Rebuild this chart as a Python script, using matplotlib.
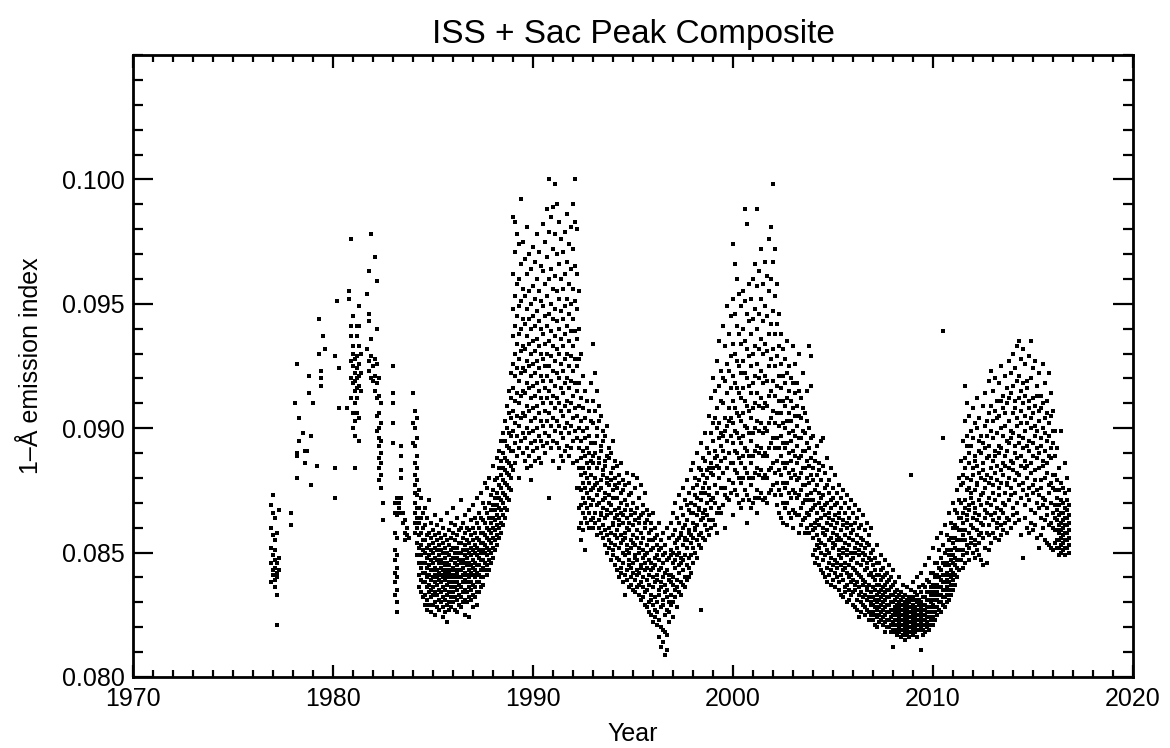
import matplotlib.pyplot as plt
from matplotlib.ticker import MultipleLocator, FormatStrFormatter

plt.rcParams['font.family'] = ['Liberation Sans', 'DejaVu Sans']

# 1-A emission index read off the composite, in units of 1e-4,
# grouped per 0.1-year bin: (year, [values in that bin])
cycle21 = [
    (1976.9, [838, 846, 852, 869, 860]),
    (1977.0, [873, 866, 857, 849, 843, 841]),
    (1977.1, [864, 855, 847, 844, 839, 836, 851]),
    (1977.2, [858, 846, 842, 840, 833, 821]),
    (1977.3, [867, 848, 843]),
    (1977.9, [866, 861]),
    (1978.1, [910]),
    (1978.2, [926, 890, 880, 889]),
    (1978.3, [895, 904]),
    (1978.5, [898]),
    (1978.6, [886, 891]),
    (1978.7, [891]),
    (1978.8, [921, 914]),
    (1978.9, [897, 877]),
    (1979.0, [910]),
    (1979.2, [885]),
    (1979.3, [944, 930]),
    (1979.4, [923, 920, 917]),
    (1979.5, [937]),
    (1979.6, [932]),
    (1980.1, [929, 884, 872]),
    (1980.2, [951]),
    (1980.3, [924, 908]),
    (1980.7, [908]),
    (1980.8, [955, 952]),
    (1980.9, [976, 941, 937, 927, 920, 912]),
    (1981.0, [945, 933, 930, 925, 918, 906, 900]),
    (1981.1, [928, 922, 919, 915, 910, 903, 897, 884]),
    (1981.2, [941, 937, 929, 924, 920, 916, 912, 906]),
    (1981.3, [949, 941, 933, 926, 921, 917, 904, 895]),
    (1981.4, [930, 922, 915]),
    (1981.7, [954, 932]),
    (1981.8, [963, 946, 943, 927, 923]),
    (1981.9, [978, 936, 929, 920]),
    (1982.0, [925, 919]),
    (1982.1, [969, 928, 921, 915]),
    (1982.2, [959, 940, 926, 918, 912, 905, 899]),
    (1982.3, [920, 913, 906, 900, 896, 893, 888, 884, 879]),
    (1982.4, [910, 902, 895, 890, 886, 881, 876]),
    (1982.5, [870, 863]),
    (1983.0, [925, 914, 910, 902, 894]),
    (1983.1, [870, 866, 858, 851, 847, 842, 838, 833]),
    (1983.2, [872, 865, 856, 849, 844, 840, 835, 830, 826]),
    (1983.3, [868, 866, 870]),
    (1983.4, [893, 889, 883, 880, 872, 866]),
    (1983.5, [866, 862]),
    (1983.6, [858, 863, 855]),
    (1983.7, [860, 857]),
    (1983.8, [856]),
    (1984.0, [914, 902, 894]),
    (1984.1, [907, 900, 893, 886, 881, 877, 874, 870, 866, 862, 858]),
    (1984.2, [904, 896, 889, 884, 879, 873, 868, 864, 860, 854, 849]),
    (1984.3, [875, 868, 862, 857, 852, 846, 841, 836]),
    (1984.4, [872, 864, 858, 853, 849, 844, 839, 834]),
    (1984.5, [866, 860, 855, 851, 846, 842, 838, 832]),
]

cycle22 = [
    (1984.6, [868, 861, 855, 850, 846, 842, 838, 833, 829]),
    (1984.7, [864, 857, 852, 848, 844, 840, 836, 831, 827]),
    (1984.8, [871, 858, 853, 849, 845, 841, 837, 834, 829]),
    (1984.9, [862, 856, 851, 847, 843, 839, 835, 832, 826]),
    (1985.0, [859, 854, 850, 846, 843, 840, 836, 833, 829]),
    (1985.1, [865, 857, 852, 848, 844, 841, 838, 834, 830, 825]),
    (1985.2, [861, 855, 851, 847, 843, 840, 837, 833, 828]),
    (1985.3, [858, 853, 849, 846, 842, 839, 835, 831, 827]),
    (1985.4, [863, 856, 851, 847, 844, 841, 838, 834, 830]),
    (1985.5, [860, 854, 850, 846, 843, 840, 836, 832, 828, 824]),
    (1985.6, [857, 852, 848, 845, 842, 839, 835, 831, 826]),
    (1985.7, [866, 855, 850, 846, 843, 840, 837, 833, 829, 822]),
    (1985.8, [859, 853, 849, 845, 842, 838, 834, 830, 827]),
    (1985.9, [862, 856, 851, 847, 843, 840, 836, 832, 828]),
    (1986.0, [868, 858, 852, 848, 844, 841, 838, 834, 830]),
    (1986.1, [861, 855, 850, 846, 843, 840, 836, 832, 827]),
    (1986.2, [864, 857, 852, 848, 845, 842, 838, 835, 831, 826]),
    (1986.3, [859, 854, 850, 847, 843, 840, 837, 833, 829]),
    (1986.4, [871, 860, 854, 850, 846, 843, 840, 836, 832, 828]),
    (1986.5, [862, 856, 851, 847, 844, 841, 838, 834, 830]),
    (1986.6, [865, 858, 853, 849, 846, 842, 839, 835, 831, 825]),
    (1986.7, [860, 855, 851, 848, 845, 841, 838, 834, 830]),
    (1986.8, [867, 859, 854, 850, 846, 843, 840, 836, 832, 824]),
    (1986.9, [863, 857, 852, 849, 845, 842, 838, 835, 831]),
    (1987.0, [869, 860, 855, 851, 847, 844, 841, 837, 833, 828]),
    (1987.1, [864, 858, 853, 850, 846, 843, 840, 836, 832]),
    (1987.2, [872, 862, 856, 852, 849, 845, 842, 838, 834, 829]),
    (1987.3, [866, 860, 855, 851, 848, 845, 841, 838, 834]),
    (1987.4, [874, 864, 858, 854, 850, 847, 843, 840, 836]),
    (1987.5, [870, 863, 858, 854, 851, 847, 844, 840, 837]),
    (1987.6, [878, 868, 862, 857, 853, 850, 846, 843]),
    (1987.7, [876, 866, 860, 856, 852, 849, 845, 841]),
    (1987.8, [880, 870, 864, 859, 855, 851, 847, 843]),
    (1987.9, [873, 867, 862, 858, 854, 850, 846]),
    (1988.0, [885, 875, 869, 864, 860, 856, 852, 848]),
    (1988.1, [879, 872, 867, 863, 859, 855, 851]),
    (1988.2, [888, 880, 874, 869, 865, 861, 857, 853]),
    (1988.3, [891, 884, 877, 872, 868, 864, 860, 856]),
    (1988.4, [895, 887, 881, 876, 871, 867, 862, 858]),
    (1988.5, [898, 890, 884, 879, 874, 870, 865, 861]),
    (1988.6, [903, 895, 888, 883, 878, 873, 868, 864]),
    (1988.7, [909, 900, 893, 887, 882, 877, 872, 867]),
    (1988.8, [915, 906, 898, 892, 886, 881, 876, 871]),
    (1988.9, [922, 912, 904, 897, 891, 885, 880, 875]),
    (1989.0, [985, 962, 948, 937, 926, 916, 907, 899, 891, 883]),
    (1989.1, [983, 971, 953, 941, 930, 921, 911, 902, 894, 886]),
    (1989.2, [978, 958, 945, 934, 924, 914, 905, 897, 889]),
    (1989.3, [974, 960, 949, 938, 928, 919, 910, 901, 892, 880]),
    (1989.4, [992, 966, 951, 940, 931, 922, 913, 904, 895]),
    (1989.5, [975, 956, 944, 933, 924, 915, 906, 898, 890]),
    (1989.6, [968, 953, 942, 932, 923, 914, 905, 896, 887]),
    (1989.7, [981, 962, 948, 937, 927, 918, 909, 900, 892, 884]),
    (1989.8, [970, 955, 944, 934, 925, 916, 907, 898, 889]),
    (1989.9, [964, 950, 940, 930, 921, 912, 903, 894, 885, 879]),
    (1990.0, [973, 957, 945, 935, 926, 917, 908, 899, 891]),
    (1990.1, [967, 952, 941, 931, 922, 913, 904, 895, 887]),
    (1990.2, [978, 960, 947, 936, 927, 918, 909, 900, 892]),
    (1990.3, [971, 955, 943, 933, 924, 915, 906, 897, 888]),
    (1990.4, [965, 951, 940, 930, 921, 912, 903, 895, 886]),
    (1990.5, [982, 963, 949, 938, 928, 919, 910, 901, 893]),
    (1990.6, [975, 958, 945, 934, 925, 916, 907, 898, 890]),
    (1990.7, [988, 969, 953, 941, 930, 921, 912, 903, 894]),
    (1990.8, [1000, 979, 960, 946, 935, 925, 915, 906, 897, 872]),
    (1990.9, [985, 964, 950, 939, 929, 919, 910, 901, 892]),
    (1991.0, [989, 972, 956, 944, 933, 923, 913, 904, 895, 887]),
    (1991.1, [998, 978, 961, 948, 937, 927, 917, 908, 899]),
    (1991.2, [990, 970, 955, 943, 932, 922, 912, 903, 894]),
    (1991.3, [983, 966, 952, 940, 930, 920, 910, 901, 892, 884]),
    (1991.4, [976, 960, 947, 936, 926, 916, 907, 898, 889]),
    (1991.5, [971, 956, 944, 933, 923, 914, 905, 896, 887]),
    (1991.6, [979, 962, 949, 938, 928, 918, 909, 900, 891]),
    (1991.7, [986, 967, 952, 941, 930, 920, 911, 902, 893]),
    (1991.8, [974, 958, 946, 935, 925, 916, 907, 898, 889]),
    (1991.9, [981, 964, 950, 939, 929, 919, 910, 901, 892]),
    (1992.0, [990, 972, 956, 944, 933, 923, 913, 904, 895, 886]),
    (1992.1, [1000, 983, 965, 951, 939, 928, 918, 908, 899]),
    (1992.2, [980, 962, 948, 936, 925, 915, 905, 896, 887, 876]),
    (1992.3, [955, 940, 928, 918, 909, 900, 892, 884, 876, 868, 860]),
    (1992.4, [930, 912, 903, 895, 888, 881, 875, 869, 862, 855]),
    (1992.5, [921, 908, 899, 891, 884, 878, 872, 866, 859]),
    (1992.6, [915, 904, 896, 889, 882, 876, 870, 864, 851]),
    (1992.7, [911, 900, 892, 886, 880, 874, 868, 862]),
    (1992.8, [907, 897, 890, 884, 878, 872, 866, 860]),
    (1992.9, [918, 903, 894, 887, 881, 875, 869, 863]),
    (1993.0, [934, 911, 902, 889, 886, 876, 871, 864, 860]),
    (1993.1, [922, 907, 894, 890, 880, 877, 866, 862]),
    (1993.2, [915, 900, 897, 884, 878, 873, 869, 857]),
    (1993.3, [909, 903, 888, 886, 875, 870, 863, 860]),
    (1993.4, [905, 893, 891, 879, 876, 866, 865, 858]),
    (1993.5, [899, 895, 883, 881, 871, 868, 861, 856]),
    (1993.6, [897, 887, 885, 874, 872, 864, 859, 853]),
    (1993.7, [901, 889, 880, 878, 867, 865, 857, 850]),
    (1993.8, [892, 888, 877, 873, 870, 860, 855, 852]),
    (1993.9, [890, 882, 879, 869, 866, 858, 854, 847]),
    (1994.0, [895, 884, 875, 872, 862, 861, 851, 849]),
    (1994.1, [887, 880, 877, 867, 864, 857, 853, 845]),
    (1994.2, [885, 876, 872, 865, 859, 856, 848, 843]),
    (1994.3, [881, 878, 868, 863, 861, 852, 847, 840]),
    (1994.4, [886, 874, 870, 866, 857, 854, 844, 842]),
    (1994.5, [879, 875, 865, 862, 855, 850, 846, 838]),
    (1994.6, [877, 871, 867, 858, 856, 849, 841, 833]),
    (1994.7, [882, 869, 864, 860, 853, 851, 843, 839]),
    (1994.8, [878, 873, 862, 859, 850, 847, 845, 836]),
    (1994.9, [874, 867, 865, 855, 852, 844, 840, 837]),
    (1995.0, [881, 870, 861, 857, 854, 846, 842, 835]),
    (1995.1, [876, 866, 863, 853, 849, 848, 839, 834]),
    (1995.2, [880, 868, 859, 856, 847, 843, 841, 836]),
    (1995.3, [872, 864, 862, 852, 850, 842, 837, 833]),
    (1995.4, [877, 865, 858, 854, 845, 844, 838, 831]),
    (1995.5, [869, 866, 856, 851, 848, 840, 836, 832]),
    (1995.6, [874, 862, 860, 849, 846, 843, 834, 829]),
    (1995.7, [867, 863, 853, 850, 844, 839, 835, 828]),
    (1995.8, [865, 858, 855, 847, 841, 837, 830, 826]),
    (1995.9, [862, 859, 851, 846, 843, 833, 831, 825]),
    (1996.0, [866, 855, 852, 844, 840, 836, 829, 822]),
    (1996.1, [860, 856, 848, 845, 838, 832, 827, 824]),
    (1996.2, [857, 853, 849, 841, 839, 830, 826, 821]),
    (1996.3, [862, 851, 847, 843, 835, 833, 823, 816]),
    (1996.4, [855, 852, 844, 838, 836, 828, 820, 812]),
    (1996.5, [858, 849, 846, 840, 831, 829, 819, 814]),
    (1996.6, [853, 850, 842, 837, 834, 825, 818, 809]),
    (1996.7, [860, 847, 843, 835, 832, 827, 817, 811]),
    (1996.8, [856, 848, 841, 839, 830, 826, 822]),
]

cycle23 = [
    (1996.9, [862, 851, 849, 841, 838, 833, 829]),
    (1997.0, [866, 857, 850, 846, 840, 837, 830, 824]),
    (1997.1, [870, 859, 854, 847, 844, 835, 832]),
    (1997.2, [864, 855, 852, 849, 839, 836, 828]),
    (1997.3, [873, 862, 856, 850, 845, 842, 834]),
    (1997.4, [868, 858, 857, 848, 846, 838, 833]),
    (1997.5, [876, 865, 860, 853, 847, 843, 837]),
    (1997.6, [871, 861, 856, 855, 849, 840, 836]),
    (1997.7, [879, 869, 863, 855, 852, 845, 839]),
    (1997.8, [874, 867, 859, 858, 848, 844, 840]),
    (1997.9, [883, 870, 866, 857, 854, 849, 842]),
    (1998.0, [886, 876, 866, 862, 856, 852, 846]),
    (1998.1, [880, 873, 869, 860, 859, 850]),
    (1998.2, [890, 877, 872, 865, 861, 855, 848]),
    (1998.3, [884, 879, 868, 867, 857, 853]),
    (1998.4, [894, 883, 874, 871, 863, 858, 852, 827]),
    (1998.5, [888, 881, 876, 866, 864, 856]),
    (1998.6, [898, 887, 878, 874, 867, 861, 855]),
    (1998.7, [892, 883, 880, 870, 865, 859]),
    (1998.8, [905, 890, 884, 876, 873, 863, 857]),
    (1998.9, [912, 898, 886, 882, 871, 868, 860]),
    (1999.0, [920, 902, 895, 884, 881, 872, 863]),
    (1999.1, [915, 904, 891, 888, 877, 870, 861]),
    (1999.2, [927, 908, 900, 889, 885, 874, 866, 858]),
    (1999.3, [935, 917, 902, 896, 884, 880, 868]),
    (1999.4, [923, 911, 898, 893, 887, 876, 866]),
    (1999.5, [941, 920, 910, 897, 891, 882, 869]),
    (1999.6, [933, 919, 904, 899, 888, 876, 873, 860]),
    (1999.7, [949, 926, 914, 901, 895, 884, 872]),
    (1999.8, [938, 923, 908, 903, 890, 879, 871]),
    (1999.9, [945, 929, 916, 904, 897, 886, 874]),
    (2000.0, [974, 952, 934, 921, 911, 902, 894, 886, 878, 865]),
    (2000.1, [966, 946, 930, 918, 908, 899, 891, 883, 875]),
    (2000.2, [960, 941, 927, 916, 906, 898, 890, 882, 873]),
    (2000.3, [954, 938, 925, 914, 905, 896, 888, 880, 870]),
    (2000.4, [949, 934, 922, 912, 903, 894, 886, 878, 868]),
    (2000.5, [955, 940, 927, 916, 906, 897, 889, 880, 871]),
    (2000.6, [988, 951, 935, 922, 911, 901, 892, 884, 875]),
    (2000.7, [982, 946, 932, 920, 909, 900, 891, 882, 873, 862]),
    (2000.8, [958, 943, 929, 917, 907, 898, 889, 880, 871]),
    (2000.9, [952, 938, 925, 914, 904, 895, 886, 877, 868]),
    (2001.0, [960, 944, 930, 918, 908, 898, 889, 880, 870]),
    (2001.1, [966, 948, 933, 921, 910, 900, 891, 882, 872]),
    (2001.2, [988, 957, 940, 926, 914, 903, 893, 884, 875, 866]),
    (2001.3, [963, 946, 932, 920, 909, 899, 890, 881, 872]),
    (2001.4, [972, 952, 936, 923, 912, 902, 892, 883, 874]),
    (2001.5, [958, 943, 930, 918, 908, 898, 889, 880, 871]),
    (2001.6, [967, 949, 934, 921, 910, 900, 890, 881, 872]),
    (2001.7, [961, 945, 931, 919, 909, 899, 889, 880, 870]),
    (2001.8, [976, 955, 938, 925, 913, 902, 892, 883, 874]),
    (2001.9, [981, 960, 942, 928, 915, 904, 894, 884, 875]),
    (2002.0, [998, 967, 947, 932, 919, 907, 896, 886, 877]),
    (2002.1, [972, 953, 938, 925, 913, 902, 892, 882, 873]),
    (2002.2, [958, 942, 929, 917, 906, 896, 887, 878, 869]),
    (2002.3, [946, 933, 921, 911, 901, 892, 883, 875, 866]),
    (2002.4, [938, 926, 916, 906, 897, 889, 881, 873, 864]),
    (2002.5, [932, 921, 911, 902, 894, 886, 878, 870, 862]),
    (2002.6, [928, 918, 909, 900, 892, 884, 876, 868]),
    (2002.7, [935, 922, 912, 903, 894, 886, 878, 870, 861]),
    (2002.8, [925, 915, 906, 898, 890, 882, 874, 866]),
    (2002.9, [920, 911, 903, 895, 887, 880, 872, 864]),
    (2003.0, [933, 918, 908, 899, 891, 883, 875, 867, 860]),
    (2003.1, [926, 914, 905, 897, 889, 881, 874, 866]),
    (2003.2, [918, 909, 901, 893, 886, 879, 872, 865]),
    (2003.3, [930, 915, 905, 896, 888, 880, 873, 865, 858]),
    (2003.4, [912, 904, 896, 889, 882, 875, 868, 861]),
    (2003.5, [922, 908, 899, 891, 884, 877, 870, 863]),
    (2003.6, [906, 898, 891, 884, 877, 871, 864, 858]),
    (2003.7, [915, 903, 894, 887, 880, 873, 866, 860]),
    (2003.8, [933, 900, 892, 885, 878, 871, 865, 858]),
    (2003.9, [929, 917, 896, 888, 881, 874, 867, 861]),
    (2004.0, [897, 884, 879, 871, 868, 859, 856, 849]),
    (2004.1, [890, 887, 875, 869, 862, 860, 851, 846]),
    (2004.2, [893, 881, 877, 866, 863, 857, 848, 853]),
    (2004.3, [886, 883, 874, 870, 861, 855, 852, 845]),
    (2004.4, [895, 879, 872, 868, 864, 854, 850, 843]),
    (2004.5, [896, 885, 873, 867, 860, 858, 847, 842]),
    (2004.6, [882, 876, 869, 865, 857, 853, 849, 840]),
    (2004.7, [888, 877, 870, 862, 859, 851, 844, 838]),
    (2004.8, [879, 874, 866, 864, 855, 850, 846, 841]),
    (2004.9, [884, 871, 868, 861, 856, 848, 843, 837]),
    (2005.0, [876, 872, 863, 858, 854, 852, 845, 839]),
    (2005.1, [881, 869, 865, 860, 853, 847, 842, 836]),
    (2005.2, [874, 870, 862, 857, 855, 846, 840, 844]),
    (2005.3, [877, 866, 864, 856, 851, 849, 838, 835]),
    (2005.4, [872, 868, 859, 855, 848, 845, 841, 833]),
    (2005.5, [875, 863, 861, 852, 850, 843, 839, 832]),
    (2005.6, [870, 866, 857, 854, 846, 844, 836, 834]),
    (2005.7, [873, 862, 860, 851, 849, 842, 837, 830]),
    (2005.8, [868, 864, 856, 853, 845, 840, 835, 831]),
    (2005.9, [871, 861, 858, 850, 847, 841, 833, 838]),
    (2006.0, [866, 859, 855, 848, 844, 839, 834, 829]),
    (2006.1, [869, 862, 852, 850, 843, 837, 835, 828]),
    (2006.2, [864, 857, 854, 846, 842, 838, 831, 827]),
    (2006.3, [867, 860, 851, 849, 841, 836, 833, 824]),
    (2006.4, [861, 856, 853, 845, 840, 834, 830, 826]),
    (2006.5, [865, 855, 850, 847, 839, 837, 829, 832]),
    (2006.6, [859, 852, 849, 843, 838, 833, 828, 825]),
    (2006.7, [862, 854, 846, 844, 836, 835, 827, 831]),
    (2006.8, [857, 853, 848, 841, 837, 832, 826, 823]),
    (2006.9, [860, 850, 847, 842, 834, 830, 829, 825]),
    (2007.0, [851, 845, 840, 836, 832, 829, 826, 823]),
    (2007.1, [848, 843, 839, 835, 831, 828, 825, 821]),
    (2007.2, [853, 846, 841, 837, 833, 830, 827, 824, 820]),
    (2007.3, [846, 841, 837, 834, 831, 828, 825, 822]),
    (2007.4, [849, 843, 839, 835, 832, 829, 826, 823]),
    (2007.5, [844, 840, 836, 833, 830, 827, 824, 821]),
    (2007.6, [847, 841, 837, 834, 831, 828, 825, 822, 818]),
    (2007.7, [842, 838, 835, 832, 829, 826, 823, 820]),
    (2007.8, [845, 839, 835, 832, 829, 826, 823, 820]),
    (2007.9, [840, 836, 833, 830, 827, 824, 821, 818]),
    (2008.0, [843, 837, 833, 830, 827, 825, 822, 819, 812]),
    (2008.1, [838, 834, 831, 828, 826, 823, 821, 818]),
    (2008.2, [835, 832, 829, 827, 825, 823, 821, 819, 817]),
    (2008.3, [840, 833, 830, 828, 826, 824, 822, 820, 818]),
    (2008.4, [834, 831, 829, 827, 825, 823, 821, 819, 816]),
    (2008.5, [837, 832, 829, 827, 825, 823, 821, 819, 817]),
    (2008.6, [833, 830, 828, 826, 824, 822, 820, 818, 815]),
    (2008.7, [836, 831, 829, 827, 825, 823, 821, 819, 817]),
    (2008.8, [832, 830, 828, 826, 824, 822, 820, 818, 816]),
    (2008.9, [881, 835, 831, 828, 826, 824, 822, 820, 818]),
    (2009.0, [838, 832, 829, 827, 825, 823, 821, 819, 817]),
    (2009.1, [834, 831, 828, 826, 824, 822, 820, 818]),
    (2009.2, [840, 833, 830, 827, 825, 823, 821, 819, 816]),
    (2009.3, [836, 831, 829, 827, 825, 823, 821, 819]),
    (2009.4, [842, 834, 830, 828, 826, 824, 822, 820, 811]),
    (2009.5, [837, 832, 829, 827, 825, 823, 821, 819, 817]),
    (2009.6, [845, 836, 832, 829, 827, 825, 823, 821, 818]),
    (2009.7, [839, 834, 831, 828, 826, 824, 822, 820]),
    (2009.8, [848, 838, 834, 831, 828, 826, 824, 821, 819]),
    (2009.9, [842, 836, 833, 830, 828, 826, 823, 821]),
]

cycle24 = [
    (2010.0, [852, 842, 837, 834, 831, 829, 826, 824, 821]),
    (2010.1, [846, 840, 836, 833, 831, 828, 826, 823]),
    (2010.2, [856, 846, 841, 837, 834, 831, 828, 825]),
    (2010.3, [851, 844, 840, 836, 833, 830, 827]),
    (2010.4, [858, 848, 843, 839, 836, 833, 830, 826]),
    (2010.5, [939, 896, 853, 846, 841, 838, 835, 832, 829]),
    (2010.6, [861, 850, 845, 841, 838, 835, 832, 828]),
    (2010.7, [857, 851, 846, 842, 839, 836, 833, 830]),
    (2010.8, [866, 855, 849, 845, 841, 838, 835, 831]),
    (2010.9, [862, 856, 851, 847, 843, 840, 837, 833]),
    (2011.0, [870, 860, 854, 849, 846, 842, 839, 835]),
    (2011.1, [867, 861, 856, 852, 848, 845, 841, 837]),
    (2011.2, [875, 866, 860, 855, 851, 847, 844, 840]),
    (2011.3, [880, 871, 864, 859, 855, 851, 847, 843]),
    (2011.4, [887, 877, 870, 864, 859, 855, 851, 847]),
    (2011.5, [895, 881, 878, 866, 862, 857, 851, 849, 844]),
    (2011.6, [917, 903, 888, 884, 871, 868, 859, 855, 846]),
    (2011.7, [910, 897, 893, 880, 875, 865, 863, 853, 850]),
    (2011.8, [905, 890, 886, 876, 869, 867, 858, 852, 847]),
    (2011.9, [899, 893, 879, 874, 872, 861, 856, 854]),
    (2012.0, [908, 896, 884, 881, 870, 864, 860, 850]),
    (2012.1, [902, 889, 887, 875, 868, 866, 855, 853, 848]),
    (2012.2, [912, 900, 885, 878, 877, 863, 859, 851]),
    (2012.3, [904, 895, 891, 882, 871, 865, 857, 854, 849]),
    (2012.4, [897, 890, 880, 873, 869, 862, 858, 847]),
    (2012.5, [909, 894, 886, 883, 874, 861, 856, 845]),
    (2012.6, [914, 901, 892, 879, 876, 867, 864, 852]),
    (2012.7, [903, 897, 888, 881, 870, 866, 858, 846]),
    (2012.8, [919, 906, 893, 889, 878, 872, 861, 857, 851]),
    (2012.9, [923, 909, 899, 884, 880, 869, 865, 854]),
    (2013.0, [915, 903, 896, 887, 877, 874, 863, 858]),
    (2013.1, [920, 907, 891, 889, 882, 871, 866, 856]),
    (2013.2, [911, 904, 898, 885, 879, 868, 862, 860]),
    (2013.3, [918, 905, 893, 890, 876, 873, 864, 855]),
    (2013.4, [925, 911, 900, 892, 883, 878, 867, 861, 857]),
    (2013.5, [913, 908, 897, 886, 881, 870, 866, 859]),
    (2013.6, [921, 906, 901, 889, 885, 874, 869, 862]),
    (2013.7, [916, 910, 895, 891, 878, 877, 864, 858]),
    (2013.8, [927, 912, 903, 894, 884, 880, 871, 863]),
    (2013.9, [922, 914, 899, 896, 887, 876, 873, 860]),
    (2014.0, [930, 917, 906, 898, 886, 883, 868, 865]),
    (2014.1, [924, 911, 908, 893, 890, 879, 874, 862]),
    (2014.2, [933, 919, 904, 901, 888, 882, 870, 866]),
    (2014.3, [935, 921, 912, 897, 894, 881, 877, 863]),
    (2014.4, [928, 915, 907, 902, 889, 885, 872, 857]),
    (2014.5, [932, 918, 910, 896, 892, 878, 875, 848]),
    (2014.6, [926, 913, 905, 899, 887, 884, 869, 864]),
    (2014.7, [919, 916, 902, 893, 885, 880, 873, 860]),
    (2014.8, [929, 911, 908, 895, 891, 876, 871, 858]),
    (2014.9, [935, 920, 904, 900, 886, 882, 867, 862]),
    (2015.0, [924, 912, 906, 894, 889, 877, 874, 859]),
    (2015.1, [927, 909, 901, 897, 883, 879, 866, 861]),
    (2015.2, [917, 913, 899, 892, 888, 875, 870, 856]),
    (2015.3, [922, 907, 903, 890, 884, 873, 868, 852]),
    (2015.4, [913, 908, 896, 893, 879, 876, 864, 857]),
    (2015.5, [926, 910, 900, 887, 885, 872, 869, 860]),
    (2015.6, [918, 904, 898, 891, 880, 871, 863, 855]),
    (2015.7, [911, 906, 895, 886, 882, 868, 865, 854]),
    (2015.8, [922, 902, 897, 889, 877, 874, 861, 853]),
    (2015.9, [914, 905, 892, 888, 878, 870, 862, 852]),
    (2016.0, [907, 899, 894, 881, 876, 866, 860, 851]),
    (2016.1, [899, 889, 881, 875, 869, 864, 859, 854]),
    (2016.2, [892, 879, 872, 867, 863, 859, 855, 852]),
    (2016.3, [884, 875, 869, 865, 861, 858, 855, 852, 849]),
    (2016.4, [899, 878, 871, 866, 862, 859, 856, 853, 850]),
    (2016.5, [876, 870, 866, 863, 860, 857, 854, 851]),
    (2016.6, [886, 874, 868, 864, 861, 858, 855, 852, 849]),
    (2016.7, [880, 871, 867, 864, 861, 858, 855, 852]),
    (2016.8, [875, 869, 865, 862, 859, 856, 853, 850]),
]

years, index = [], []
for segment in (cycle21, cycle22, cycle23, cycle24):
    for yr, vals in segment:
        for v in vals:
            years.append(yr)
            index.append(v * 1e-4)

fig = plt.figure(figsize=(11.7, 7.48), dpi=100)
ax = fig.add_axes([133 / 1170, 71 / 748, 1000 / 1170, 622 / 748])

ax.plot(years, index, 's', color='black', ms=2.7, mew=0)

ax.set_xlim(1970, 2020)
ax.set_ylim(0.080, 0.105)
ax.set_xticks(range(1970, 2021, 10))
ax.xaxis.set_minor_locator(MultipleLocator(1))
ax.set_yticks([0.080, 0.085, 0.090, 0.095, 0.100])
ax.yaxis.set_minor_locator(MultipleLocator(0.001))
ax.yaxis.set_major_formatter(FormatStrFormatter('%.3f'))

for side in ax.spines.values():
    side.set_linewidth(2)
ax.tick_params(which='both', direction='in', top=True, right=True,
               labelsize=18, width=1.6, color='black')
ax.tick_params(axis='y', which='major', length=14.4, pad=6)
ax.tick_params(axis='y', which='minor', length=7.2)
ax.tick_params(axis='x', which='major', length=9, pad=7)
ax.tick_params(axis='x', which='minor', length=4.7)

ax.set_title('ISS + Sac Peak Composite', fontsize=24, pad=9)
ax.set_xlabel('Year', fontsize=18)
ax.set_ylabel('1–Å emission index', fontsize=18)
ax.xaxis.set_label_coords(0.5, -0.072)
ax.yaxis.set_label_coords(-0.09, 0.5)

fig.savefig('out.png', dpi=100)
